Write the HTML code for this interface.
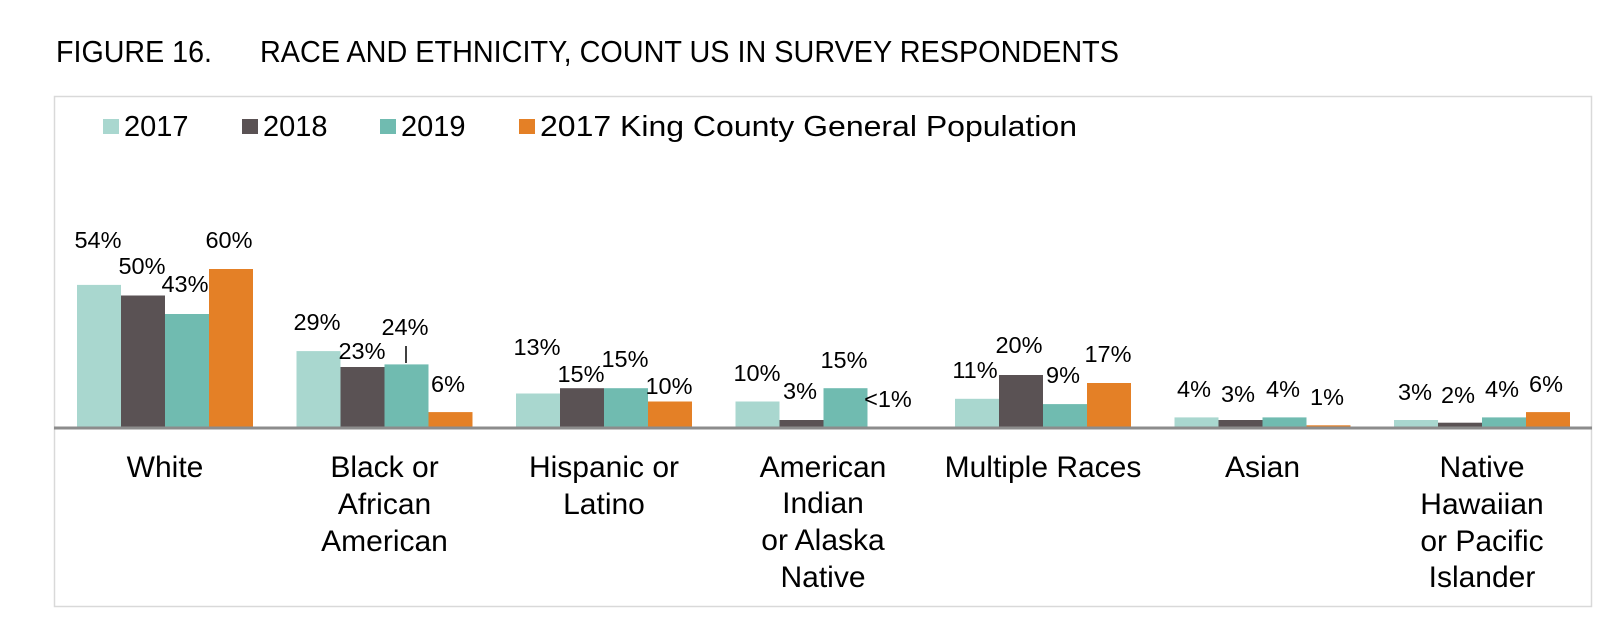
<!DOCTYPE html>
<html><head><meta charset="utf-8"><style>
html,body{margin:0;padding:0;background:#fff;}
svg{display:block;}
text{font-family:"Liberation Sans",Arial,sans-serif;fill:#000;}
.t{font-family:"Liberation Sans Narrow","Liberation Sans",sans-serif;}
.v{font-size:23.5px;text-anchor:middle;}
.c{font-size:30px;text-anchor:middle;}
.l{font-size:29px;}
</style></head><body>
<svg width="1618" height="636" viewBox="0 0 1618 636" xmlns="http://www.w3.org/2000/svg">
<text class="t" x="56" y="62" font-size="31" textLength="156" lengthAdjust="spacingAndGlyphs">FIGURE 16.</text>
<text class="t" x="260" y="62" font-size="31" textLength="859" lengthAdjust="spacingAndGlyphs">RACE AND ETHNICITY, COUNT US IN SURVEY RESPONDENTS</text>
<rect x="54.5" y="96.5" width="1537" height="510" fill="none" stroke="#d9d9d9" stroke-width="1.5"/>
<!-- legend -->
<rect x="103" y="119" width="16" height="15" fill="#a9d7cf"/>
<text class="l" x="124" y="136">2017</text>
<rect x="242" y="119" width="16" height="15" fill="#5a5254"/>
<text class="l" x="263" y="136">2018</text>
<rect x="380" y="119" width="16" height="15" fill="#70bbb0"/>
<text class="l" x="401" y="136">2019</text>
<rect x="519" y="119" width="16" height="15" fill="#e48026"/>
<text class="l" x="540" y="136" textLength="537" lengthAdjust="spacingAndGlyphs">2017 King County General Population</text>
<!-- bars -->
<g fill="#a9d7cf">
<rect x="77" y="284.9" width="44" height="143.1"/>
<rect x="296.5" y="351.1" width="44" height="76.9"/>
<rect x="516" y="393.5" width="44" height="34.5"/>
<rect x="735.5" y="401.5" width="44" height="26.5"/>
<rect x="955" y="398.8" width="44" height="29.2"/>
<rect x="1174.5" y="417.4" width="44" height="10.6"/>
<rect x="1394" y="420" width="44" height="8"/>
</g>
<g fill="#5a5254">
<rect x="121" y="295.5" width="44" height="132.5"/>
<rect x="340.5" y="367" width="44" height="61"/>
<rect x="560" y="388.2" width="44" height="39.8"/>
<rect x="779.5" y="420" width="44" height="8"/>
<rect x="999" y="375" width="44" height="53"/>
<rect x="1218.5" y="420" width="44" height="8"/>
<rect x="1438" y="422.7" width="44" height="5.3"/>
</g>
<g fill="#70bbb0">
<rect x="165" y="314" width="44" height="114"/>
<rect x="384.5" y="364.4" width="44" height="63.6"/>
<rect x="604" y="388.2" width="44" height="39.8"/>
<rect x="823.5" y="388.2" width="44" height="39.8"/>
<rect x="1043" y="404.1" width="44" height="23.9"/>
<rect x="1262.5" y="417.4" width="44" height="10.6"/>
<rect x="1482" y="417.4" width="44" height="10.6"/>
</g>
<g fill="#e48026">
<rect x="209" y="269" width="44" height="159"/>
<rect x="428.5" y="412.1" width="44" height="15.9"/>
<rect x="648" y="401.5" width="44" height="26.5"/>
<rect x="867.5" y="427" width="44" height="1"/>
<rect x="1087" y="383" width="44" height="45"/>
<rect x="1306.5" y="425.3" width="44" height="2.7"/>
<rect x="1526" y="412.1" width="44" height="15.9"/>
</g>
<line x1="54" y1="428" x2="1592" y2="428" stroke="#8c8c8c" stroke-width="3"/>
<line x1="406" y1="346" x2="406" y2="363" stroke="#000" stroke-width="1.5"/>
<!-- value labels -->
<text class="v" x="98" y="248">54%</text>
<text class="v" x="142" y="274">50%</text>
<text class="v" x="185" y="292">43%</text>
<text class="v" x="229" y="248">60%</text>
<text class="v" x="317" y="330">29%</text>
<text class="v" x="362" y="359">23%</text>
<text class="v" x="405" y="335">24%</text>
<text class="v" x="448" y="392">6%</text>
<text class="v" x="537" y="355">13%</text>
<text class="v" x="581" y="382">15%</text>
<text class="v" x="625" y="367">15%</text>
<text class="v" x="669" y="394">10%</text>
<text class="v" x="757" y="381">10%</text>
<text class="v" x="800" y="399">3%</text>
<text class="v" x="844" y="368">15%</text>
<text class="v" x="888" y="407">&lt;1%</text>
<text class="v" x="975" y="378">11%</text>
<text class="v" x="1019" y="353">20%</text>
<text class="v" x="1063" y="383">9%</text>
<text class="v" x="1108" y="362">17%</text>
<text class="v" x="1194" y="397">4%</text>
<text class="v" x="1238" y="402">3%</text>
<text class="v" x="1283" y="397">4%</text>
<text class="v" x="1327" y="405">1%</text>
<text class="v" x="1415" y="400">3%</text>
<text class="v" x="1458" y="403">2%</text>
<text class="v" x="1502" y="397">4%</text>
<text class="v" x="1546" y="392">6%</text>
<!-- category labels -->
<text class="c" x="165" y="477">White</text>
<text class="c" x="384.5" y="477">Black or</text>
<text class="c" x="384.5" y="514">African</text>
<text class="c" x="384.5" y="551">American</text>
<text class="c" x="604" y="477">Hispanic or</text>
<text class="c" x="604" y="514">Latino</text>
<text class="c" x="823" y="477">American</text>
<text class="c" x="823" y="513">Indian</text>
<text class="c" x="823" y="550">or Alaska</text>
<text class="c" x="823" y="587">Native</text>
<text class="c" x="1043" y="477">Multiple Races</text>
<text class="c" x="1262.5" y="477">Asian</text>
<text class="c" x="1482" y="477">Native</text>
<text class="c" x="1482" y="514">Hawaiian</text>
<text class="c" x="1482" y="551">or Pacific</text>
<text class="c" x="1482" y="587">Islander</text>
</svg>
</body></html>
